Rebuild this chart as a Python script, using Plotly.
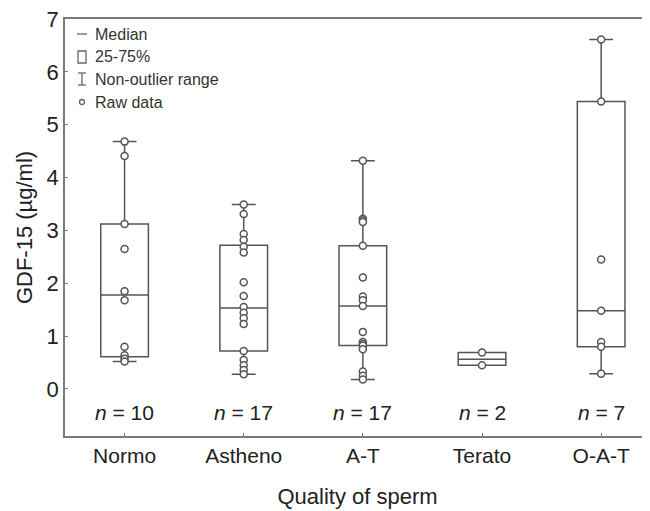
import plotly.graph_objects as go

# ---- data ----
categories = ["Normo", "Astheno", "A-T", "Terato", "O-A-T"]
q1_vals = [0.61, 0.72, 0.82, 0.45, 0.80]
median_vals = [1.78, 1.53, 1.57, 0.56, 1.48]
q3_vals = [3.12, 2.72, 2.71, 0.69, 5.44]
lower_vals = [0.52, 0.28, 0.18, 0.45, 0.29]
upper_vals = [4.68, 3.49, 4.32, 0.69, 6.61]

raw_normo = [4.68, 4.41, 3.12, 2.65, 1.85, 1.68, 0.80, 0.64, 0.57, 0.52]
raw_astheno = [3.49, 3.31, 2.93, 2.82, 2.69, 2.58, 2.02, 1.76, 1.55, 1.44,
               1.34, 1.23, 0.72, 0.55, 0.45, 0.36, 0.28]
raw_at = [4.32, 3.22, 3.19, 3.16, 2.71, 2.11, 1.75, 1.68, 1.57, 1.08,
          0.89, 0.85, 0.82, 0.75, 0.33, 0.25, 0.18]
raw_terato = [0.69, 0.45]
raw_oat = [6.61, 5.44, 2.45, 1.48, 0.89, 0.80, 0.29]
raw_groups = [raw_normo, raw_astheno, raw_at, raw_terato, raw_oat]

n_labels = ["10", "17", "17", "2", "7"]
y_ticks = [0, 1, 2, 3, 4, 5, 6, 7]
legend_items = ["Median", "25-75%", "Non-outlier range", "Raw data"]

LINE = "#555555"
AXIS = "#7a7a7a"
TEXT = "#222222"
FONT = "Liberation Sans, Arial, sans-serif"

# page body adds an 8px offset; plot area in window px: x 65..650, y 19..436
OFF = 8
FIG_W, FIG_H = 650 - OFF, 511 - OFF
M_L, M_T = 65 - OFF, 19 - OFF
M_R = 0
M_B = FIG_H - (436 - OFF)

fig = go.Figure()

fig.add_trace(go.Box(
    x=categories, q1=q1_vals, median=median_vals, q3=q3_vals,
    lowerfence=lower_vals, upperfence=upper_vals,
    boxpoints=False, width=0.4, whiskerwidth=0.5,
    fillcolor="rgba(255,255,255,0)",
    line=dict(color=LINE, width=1.5),
    showlegend=False, hoverinfo="skip",
))

px, py = [], []
for cat, vals in zip(categories, raw_groups):
    px += [cat] * len(vals)
    py += vals
fig.add_trace(go.Scatter(
    x=px, y=py, mode="markers",
    marker=dict(symbol="circle", size=7, color="white",
                line=dict(color=LINE, width=1.5)),
    showlegend=False, hoverinfo="skip",
))

# n labels
for cat, n in zip(categories, n_labels):
    fig.add_annotation(x=cat, y=-0.44, xref="x", yref="y",
                       text=f"<i>n</i> = {n}", showarrow=False,
                       font=dict(size=21, color=TEXT, family=FONT))

# custom legend (top-left, inside the plot); coordinates in window px
W = 650 - 65.0
H = 436 - 19.0

def pxx(x):
    return (x - 65.0) / W

def pyy(y):
    return 1 - (y - 19.0) / H

leg_y = [34, 57, 79, 102]
for label, yy in zip(legend_items, leg_y):
    fig.add_annotation(x=pxx(93), y=pyy(yy), xref="paper", yref="paper",
                       text=label, showarrow=False, xanchor="left",
                       yanchor="middle",
                       font=dict(size=16, color="#333333", family=FONT))

sym = dict(color="#666666", width=1.3)
fig.add_shape(type="line", xref="paper", yref="paper",
              x0=pxx(77), x1=pxx(87), y0=pyy(34), y1=pyy(34), line=sym)
fig.add_shape(type="rect", xref="paper", yref="paper",
              x0=pxx(78), x1=pxx(86), y0=pyy(51), y1=pyy(63), line=sym)
fig.add_shape(type="line", xref="paper", yref="paper",
              x0=pxx(82), x1=pxx(82), y0=pyy(73), y1=pyy(85), line=sym)
fig.add_shape(type="line", xref="paper", yref="paper",
              x0=pxx(78), x1=pxx(86), y0=pyy(73), y1=pyy(73), line=sym)
fig.add_shape(type="line", xref="paper", yref="paper",
              x0=pxx(78), x1=pxx(86), y0=pyy(85), y1=pyy(85), line=sym)
fig.add_shape(type="circle", xref="paper", yref="paper",
              x0=pxx(79.5), x1=pxx(84.5), y0=pyy(99.5), y1=pyy(104.5),
              line=sym)

fig.update_layout(
    width=FIG_W, height=FIG_H,
    margin=dict(l=M_L, r=M_R, t=M_T, b=M_B, pad=0),
    paper_bgcolor="white", plot_bgcolor="white",
    font=dict(family=FONT, size=22, color=TEXT),
    xaxis=dict(
        type="category", categoryorder="array", categoryarray=categories,
        range=[-0.5, 4.41], showgrid=False, zeroline=False,
        showline=True, linecolor=AXIS, linewidth=1.5, mirror=True,
        ticks="inside", ticklen=3, tickcolor=AXIS, automargin=False,
        tickfont=dict(size=21, color=TEXT), ticklabelstandoff=0,
        title=dict(text="Quality of sperm", font=dict(size=22, color=TEXT),
                   standoff=23),
    ),
    yaxis=dict(
        range=[-0.89, 7], tickvals=y_ticks, showgrid=False, zeroline=False,
        showline=True, linecolor=AXIS, linewidth=1.5, automargin=False,
        ticks="inside", ticklen=3, tickcolor=AXIS,
        ticklabeloverflow="allow",
        tickfont=dict(size=22, color=TEXT), ticklabelstandoff=0,
        title=dict(text="GDF-15 (µg/ml)", font=dict(size=22, color=TEXT),
                   standoff=8),
    ),
)

fig.write_html("out.html")
